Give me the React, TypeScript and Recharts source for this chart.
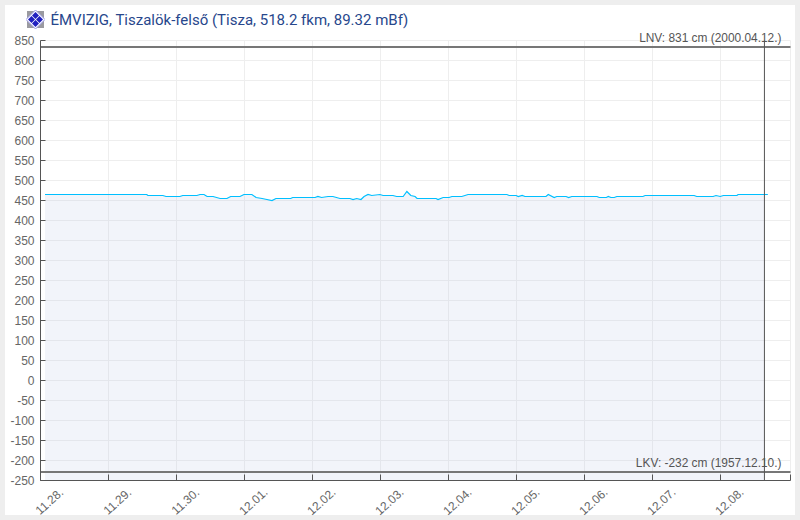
import {
  ComposedChart,
  Area,
  Line,
  XAxis,
  YAxis,
  CartesianGrid,
  ReferenceLine,
} from 'recharts';

// hours since 11.28. 00:00
const HOURS = [
  1.6, 37.5, 37.9, 43.2, 44.3, 49.2, 50.2, 55.2, 56.3, 57.7, 58.8, 60.9, 63.4, 65.8, 67.1, 70.4,
  71.8, 74.6, 76.1, 78.2, 79.9, 81.7, 83.1, 88.3, 89, 96.9, 97.9, 99.2, 101.5, 103.2, 105.7, 109.2,
  110.3, 111.6, 113.1, 114.2, 115.6, 116.9, 119.8, 120.9, 124.4, 125.7, 128, 129.3, 130.7, 132.2,
  132.9, 139.6, 140.3, 142.1, 144.2, 145.2, 148.7, 150.9, 164.6, 165.4, 167.9, 168.6, 170, 171,
  178.4, 179.2, 181.3, 182.2, 185.5, 186.4, 187.5, 196.4, 197.2, 199.7, 200.4, 201.3, 202.5, 203.4,
  212.6, 213.4, 230.7, 231.6, 237.4, 238.4, 239.9, 241, 245.8, 246.2, 255.5, 256.7,
];
const LEVELS = [
  465, 465, 462.5, 462.5, 460, 460, 462.5, 462.5, 465, 465, 460, 460, 455, 455, 460, 460,
  465, 465, 457.5, 455, 452.5, 450, 455, 455, 457.5, 457.5, 460, 457.5, 460, 460, 455, 455,
  452.5, 455, 452.5, 460, 465, 462.5, 465, 462.5, 462.5, 460, 460, 472.5, 462.5, 460,
  455, 455, 452.5, 457.5, 457.5, 460, 460, 465, 465, 462.5, 462.5, 460, 462.5, 460,
  460, 465, 457.5, 460, 460, 457.5, 460, 460, 457.5, 457.5, 460, 457.5, 457.5, 460,
  460, 462.5, 462.5, 460, 460, 462.5, 460, 462.5, 462.5, 465, 465, 465,
];
const NOW_HOUR = 255.5;
const END_HOUR = 264.7;
const DAY_LABELS = ['11.28.', '11.29.', '11.30.', '12.01.', '12.02.', '12.03.', '12.04.', '12.05.', '12.06.', '12.07.', '12.08.'];
const DAY_TICKS = [0, 24, 48, 72, 96, 120, 144, 168, 192, 216, 240];
const Y_TICKS = [-250, -200, -150, -100, -50, 0, 50, 100, 150, 200, 250, 300, 350, 400, 450, 500, 550, 600, 650, 700, 750, 800, 850];
// where the limit lines sit in the picture
const LNV_LINE = 834;
const LKV_LINE = -229;
const LNV_LABEL = 'LNV: 831 cm (2000.04.12.)';
const LKV_LABEL = 'LKV: -232 cm (1957.12.10.)';
const TITLE = 'ÉMVIZIG, Tiszalök-felső (Tisza, 518.2 fkm, 89.32 mBf)';

const chartData = HOURS.map((hour, i) => ({
  hour,
  level: LEVELS[i],
  filled: hour <= NOW_HOUR ? LEVELS[i] : null,
}));

const FONT = '"Liberation Sans", Arial, sans-serif';
const AXIS_COLOR = '#555';
const TEXT_COLOR = '#666';

const YTick = ({ x, y, payload }: any) => (
  <g>
    <line x1={x} x2={x + 5} y1={y} y2={y} stroke={AXIS_COLOR} />
    <text x={x - 6} y={y + 4} textAnchor="end" fontSize={12} fontFamily={FONT} fill={TEXT_COLOR}>
      {payload.value}
    </text>
  </g>
);

const XTick = ({ x, y, payload }: any) => {
  const idx = DAY_TICKS.indexOf(payload.value);
  const cx = x + 9;
  const cy = y + 21;
  return (
    <g>
      <line x1={x} x2={x} y1={y} y2={y - 6} stroke={AXIS_COLOR} />
      {idx >= 0 && (
        <text
          x={cx}
          y={cy}
          textAnchor="middle"
          dominantBaseline="central"
          fontSize={12}
          fontFamily={FONT}
          fill={TEXT_COLOR}
          transform={`rotate(-42 ${cx} ${cy})`}
        >
          {DAY_LABELS[idx]}
        </text>
      )}
    </g>
  );
};

const limitLabel = (text: string, dy: number) => (props: any) => {
  const { viewBox } = props;
  return (
    <text
      x={viewBox.x + viewBox.width - 9}
      y={viewBox.y + dy}
      textAnchor="end"
      fontSize={11.9}
      fontFamily={FONT}
      fill={AXIS_COLOR}
    >
      {text}
    </text>
  );
};

const Logo = () => (
  <svg width={19} height={19} viewBox="0 0 19 19" style={{ position: 'absolute', left: 26, top: 10 }}>
    <rect x={1} y={1} width={17} height={17} fill="#9a9aa0" />
    <path d="M9.5 0 L19 9.5 L9.5 19 L0 9.5 Z" fill="#fff" stroke="#9a9ae4" strokeWidth={1} />
    <path d="M9.5 2 L13 5.5 L9.5 9 L6 5.5 Z" fill="#2020c0" />
    <path d="M9.5 10 L13 13.5 L9.5 17 L6 13.5 Z" fill="#2020c0" />
    <path d="M5.5 6 L9 9.5 L5.5 13 L2 9.5 Z" fill="#2020c0" />
    <path d="M13.5 6 L17 9.5 L13.5 13 L10 9.5 Z" fill="#2020c0" />
  </svg>
);

export default function App() {
  return (
    <div style={{ position: 'absolute', left: 0, top: 0, width: 800, height: 520, background: '#eeeeee' }}>
      <div style={{ position: 'absolute', left: 5, top: 5, width: 790, height: 510, background: '#fff' }} />
      <Logo />
      <div
        style={{
          position: 'absolute',
          left: 50.5,
          top: 11,
          fontFamily: 'Roboto, sans-serif',
          fontSize: 15,
          lineHeight: '19px',
          color: '#27478c',
          whiteSpace: 'nowrap',
        }}
      >
        {TITLE}
      </div>
      <div style={{ position: 'absolute', left: 0, top: 0 }}>
        <ComposedChart
          width={800}
          height={520}
          data={chartData}
          margin={{ top: 40.5, right: 9.5, left: 0, bottom: 0 }}
        >
          <CartesianGrid stroke="#eeeeee" />
          <XAxis
            type="number"
            dataKey="hour"
            domain={[0, END_HOUR]}
            ticks={[...DAY_TICKS, END_HOUR]}
            interval={0}
            height={39.5}
            axisLine={{ stroke: AXIS_COLOR }}
            tickLine={false}
            tickSize={0}
            tickMargin={0}
            tick={<XTick />}
          />
          <YAxis
            type="number"
            domain={[-250, 850]}
            ticks={Y_TICKS}
            interval={0}
            width={40.5}
            axisLine={{ stroke: AXIS_COLOR }}
            tickLine={false}
            tickSize={0}
            tickMargin={0}
            tick={<YTick />}
          />
          <Area
            dataKey="filled"
            type="linear"
            baseValue={-250}
            stroke="none"
            fill="#c4cbe6"
            fillOpacity={0.22}
            dot={false}
            activeDot={false}
            isAnimationActive={false}
          />
          <Line
            dataKey="level"
            type="linear"
            stroke="#00bfff"
            strokeWidth={1.2}
            dot={false}
            activeDot={false}
            isAnimationActive={false}
          />
          <ReferenceLine y={LNV_LINE} stroke="#777" strokeWidth={2} label={limitLabel(LNV_LABEL, -5)} />
          <ReferenceLine y={LKV_LINE} stroke="#777" strokeWidth={2} label={limitLabel(LKV_LABEL, -5)} />
          <ReferenceLine x={NOW_HOUR} stroke={AXIS_COLOR} strokeWidth={1} />
        </ComposedChart>
      </div>
    </div>
  );
}
